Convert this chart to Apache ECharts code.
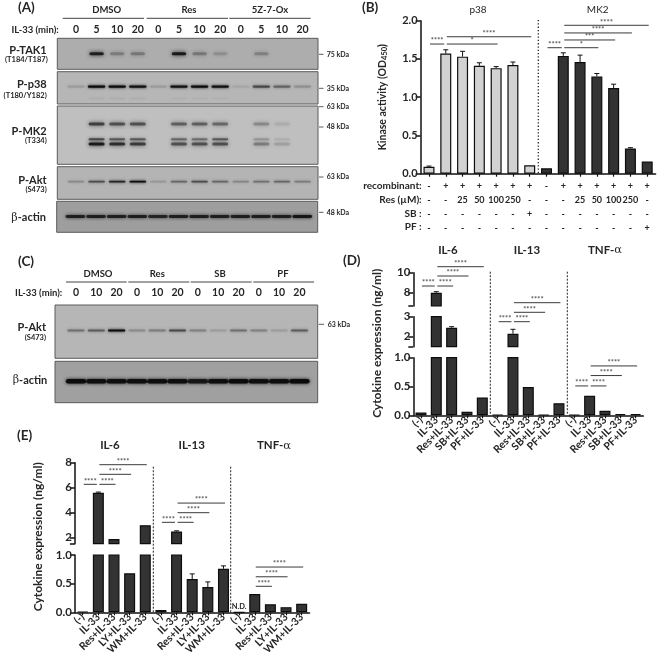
<!DOCTYPE html>
<html><head><meta charset="utf-8">
<style>html,body{margin:0;padding:0;background:#fff}#c{width:658px;height:658px}</style>
<script src="https://cdn.jsdelivr.net/npm/echarts@6/dist/echarts.min.js"></script>
</head><body><div id="c"></div>
<script>
// ---------- DATA ----------
const lanesA = ['0','5','10','20','0','5','10','20','0','5','10','20'];
const lanesC = ['0','10','20','0','10','20','0','10','20','0','10','20'];
const aTak1 = [0,.8,.22,.25,0,.85,.25,.13,0,.2,0,0];
const aP38 = [.1,.95,.95,.9,.1,.9,.95,.9,.06,.5,.35,.15];
const aP38Faint = [0,.03,.03,.03,0,.025,.02,.02,0,0,0,0];
const aMk2Top = [0,.6,.5,.5,0,.42,.42,.38,0,.22,.07,0];
const aMk2Mid = [0,.5,.42,.42,0,.35,.32,.42,0,.15,.06,0];
const aMk2Low = [0,.85,.7,.62,0,.5,.5,.5,0,.28,.12,0];
const aAkt = [.18,.5,.75,.95,.12,.35,.5,.35,.2,.3,.35,.25];
const aActin = [.75,.75,.75,.75,.7,.75,.75,.75,.75,.75,.75,.85];
const cAkt = [.3,.4,.95,.18,.25,.5,.22,.1,.3,.22,.1,.4];
const cActin = [.95,.9,.9,.9,.9,.9,.8,.9,.95,.9,.9,.95];

const bRecombinant = ['-','+','+','+','+','+','+','-','+','+','+','+','+','+'];
const bRes = ['-','-','25','50','100','250','-','-','-','25','50','100','250','-'];
const bSB = ['-','-','-','-','-','-','+','-','-','-','-','-','-','-'];
const bPF = ['-','-','-','-','-','-','-','-','-','-','-','-','-','+'];
const bP38 = [.09,1.57,1.53,1.41,1.38,1.42,.11];
const bP38Err = [.01,.05,.07,.04,.02,.04,0];
const bMk2 = [.07,1.54,1.46,1.27,1.12,.33,.16];
const bMk2Err = [0,.04,.09,.04,.05,.01,0];
const bBrackets = [[0,1,1.695,'****'],[1,4,1.695,'*'],[1,6,1.79,'****'],[7,8,1.647,'****'],[8,10,1.647,'*'],[8,11,1.748,'***'],[8,12,1.84,'****'],[8,13,1.94,'****']];

const dCats = ['(-)','IL-33','Res+IL-33','SB+IL-33','PF+IL-33'];
const dIl6 = [.05,8,2.45,.06,.31];
const dIl13 = [.01,2.15,.49,.01,.21];
const dTnf = [.01,.34,.08,.02,.02];
const dIl6Err = [0,.1,.05,0,0];
const dIl13Err = [0,.22,0,0,0];
const dTnfErr = [0,0,0,0,0];
// [from, to, level on axis, stars, axis segment]
const dBrackets = [[0,1,8.67,'****',2],[1,2,8.67,'****',2],[1,3,9.67,'****',2],[1,4,10.6,'****',2],
  [5,6,2.75,'****',1],[6,7,2.75,'****',1],[6,8,3.22,'****',1],[6,9,3.7,'****',1],
  [10,11,.51,'****',0],[11,12,.51,'****',0],[11,13,.69,'****',0],[11,14,.857,'****',0]];

const eCats = ['(-)','IL-33','Res+IL-33','LY+IL-33','WM+IL-33'];
const eIl6 = [.01,5.6,1.9,.68,3.0];
const eIl13 = [.04,2.5,.58,.44,.76];
const eTnf = [0,.32,.14,.09,.15];
const eIl6Err = [0,.05,0,0,0];
const eIl13Err = [0,.05,.09,.09,.05];
const eTnfErr = [0,0,0,0,0];
const eBrackets = [[0,1,6.27,'****',1],[1,2,6.27,'****',1],[1,3,7.07,'****',1],[1,4,7.84,'****',1],
  [5,6,3.23,'****',1],[6,7,3.23,'****',1],[6,8,4,'****',1],[6,9,4.77,'****',1],
  [11,12,.454,'****',0],[11,13,.62,'****',0],[11,14,.79,'****',0]];

// ---------- HELPERS ----------
const FONT = 'Lato, "Noto Sans", sans-serif';
const INK = '#262626';
const grids=[], xAxes=[], yAxes=[], series=[], gfx=[];
function addCoord(g,x,y){const i=grids.length;grids.push(g);xAxes.push(Object.assign({gridIndex:i},x));yAxes.push(Object.assign({gridIndex:i},y));return i;}
function text(t,x,y,size,opt){opt=opt||{};
  gfx.push({type:'text',x,y,rotation:opt.rot||0,silent:true,style:{text:t,fill:opt.fill||INK,fontFamily:FONT,fontSize:size,fontWeight:opt.w||'normal',align:opt.a||'center',verticalAlign:'middle',rich:opt.rich}});}
function line(x1,y1,x2,y2,stroke,w,dash){gfx.push({type:'line',silent:true,shape:{x1,y1,x2,y2},style:{stroke:stroke||'#555',lineWidth:w||1,lineDash:dash||null}});}

function blot(l,t,r,b,xMin,xMax,bg,labels,margin){
  const x={type:'value',min:xMin,max:xMax,show:!!labels,position:'top',splitLine:{show:false},axisLine:{show:false},axisTick:{show:false}};
  if(labels){x.axisLabel={customValues:labels.map((_,i)=>i),formatter:v=>labels[v],fontFamily:FONT,fontSize:10.5,fontWeight:'bold',color:INK,margin:margin,showMinLabel:true,showMaxLabel:true};}
  return addCoord({left:l,top:t,width:r-l,height:b-t,show:true,backgroundColor:bg,borderColor:'#5a5a5a',borderWidth:1},x,
    {type:'value',inverse:true,min:0,max:100,show:false,splitLine:{show:false}});
}
function band(i,pos,vals,wLanes,h,blur){
  series.push({type:'custom',xAxisIndex:i,yAxisIndex:i,clip:true,silent:true,
    data:vals.map((v,k)=>[k,pos,v]),encode:{x:0,y:1},
    renderItem(p,api){const v=api.value(2);if(v<=0)return null;
      const c=api.coord([api.value(0),api.value(1)]);const w=api.size([wLanes,0])[0];
      return {type:'rect',shape:{x:c[0]-w/2,y:c[1]-h/2,width:w,height:h,r:h/2},
        style:{fill:'#0a0a0a',opacity:Math.min(1,v),shadowBlur:blur,shadowColor:'#0a0a0a'}};}});
}
function barPanel(cfg){
  const segIdx=cfg.segs.map((s,si)=>{
    const x={type:'category',data:cfg.cats,show:si===0,
      axisLine:{show:true,onZero:false,lineStyle:{color:'#111',width:1.5}},
      axisTick:{show:true,alignWithLabel:true,length:3,lineStyle:{color:'#111',width:1.2}},
      axisLabel:Object.assign({interval:0,color:INK,fontFamily:FONT,fontWeight:'bold'},cfg.xLabel)};
    const y={type:'value',min:s.min,max:s.max,splitLine:{show:false},
      axisLine:{show:true,lineStyle:{color:'#111',width:1.5}},
      axisTick:{show:true,length:5,customValues:s.ticks,lineStyle:{color:'#111',width:1.5}},
      axisLabel:{customValues:s.labels,formatter:v=>s.dec?v.toFixed(s.dec):String(v),color:INK,fontFamily:FONT,fontWeight:'bold',fontSize:cfg.ySize||11.5,margin:3}};
    if(cfg.yName&&si===0)Object.assign(y,cfg.yName);
    const i=addCoord({left:cfg.left,width:cfg.width,top:s.top,height:s.h},x,y);
    series.push({type:'bar',xAxisIndex:i,yAxisIndex:i,barWidth:cfg.barW||11,silent:true,
      data:cfg.vals.map((v,k)=>{
        const item={value:v>=s.min?v:null,itemStyle:{color:cfg.colors[k],borderColor:'#0d0d0d',borderWidth:1.2}};
        if(si===0&&cfg.notes&&cfg.notes[k]!=null)item.label={show:true,formatter:cfg.notes[k],position:'top',distance:1,fontSize:7.5,fontWeight:'bold',color:INK,fontFamily:FONT};
        return item;})});
    series.push({type:'custom',xAxisIndex:i,yAxisIndex:i,silent:true,z:3,
      data:cfg.vals.map((v,k)=>[k,v,v+cfg.errs[k]]).filter(d=>d[2]>d[1]&&d[1]>=s.min&&d[1]<=s.max),encode:{x:0,y:1},
      renderItem(p,api){const a=api.coord([api.value(0),api.value(1)]),b=api.coord([api.value(0),api.value(2)]);
        const st={stroke:'#111',lineWidth:1};
        return {type:'group',children:[
          {type:'line',shape:{x1:a[0],y1:a[1],x2:b[0],y2:b[1]},style:st},
          {type:'line',shape:{x1:a[0]-2.5,y1:b[1],x2:a[0]+2.5,y2:b[1]},style:st}]};}});
    return i;
  });
  cfg.segs.forEach((s,si)=>{
    const br=cfg.brackets.filter(b=>(b[4]||0)===si);
    if(!br.length)return;
    const i=segIdx[si];
    series.push({type:'custom',xAxisIndex:i,yAxisIndex:i,silent:true,z:4,clip:false,
      data:br.map((b,k)=>[b[0],b[2],k]),encode:{x:0,y:1},
      renderItem(p,api){const b=br[p.dataIndex];
        const a=api.coord([b[0],b[2]]),c=api.coord([b[1],b[2]]);
        const isGroupStart=b[0]%cfg.groupSize===0;
        const x1=a[0]+1,x2=c[0]+(isGroupStart?-1.5:1.5);
        return {type:'group',children:[
          {type:'line',shape:{x1,y1:a[1],x2,y2:a[1]},style:{stroke:'#3a3a3a',lineWidth:1}},
          {type:'text',x:(x1+x2)/2,y:a[1]-3,style:{text:b[3],fill:'#555',fontSize:7.5,fontWeight:'bold',fontFamily:FONT,align:'center',verticalAlign:'middle'}}]};}});
  });
}
const rep=(a,n)=>[].concat(...Array(n).fill(a));

// ---------- PANEL A ----------
const axMin=-0.908, axMax=11.75;
const a1=blot(57.3,38.3,318,69.3,axMin,axMax,'#adadad',lanesA,3);
const a2=blot(57.3,71.7,318,104,axMin,axMax,'#b6b6b6');
const a3=blot(57.3,106,318,164.3,axMin,axMax,'#bfbfbf');
const a4=blot(57.3,166.7,318,199.3,axMin,axMax,'#b4b4b4');
const a5=blot(56.7,201.3,317.7,232.3,axMin,axMax,'#9e9e9e');
band(a1,50,aTak1,.7,3,4);
band(a2,46,aP38,.85,2.2,3);
band(a2,83,aP38Faint,.8,1.5,3);
band(a3,31,aMk2Top,.78,3,4);
band(a3,57,aMk2Mid,.78,2.2,3);
band(a3,65,aMk2Low,.78,3,4);
band(a4,46,aAkt,.8,1.8,3);
band(a5,49,aActin,.95,2.8,3.5);
text('(A)',18,8,13.5,{w:'bold',a:'left'});
[['DMSO',106.7,62.7,144],['Res',189,146.7,228],['5Z-7-Ox',270,229.3,310.7]].forEach(g=>{text(g[0],g[1],10.3,9.5,{w:'bold'});line(g[2],18.3,g[3],18.3,'#444',1);});
text('IL-33 (min):',58.7,30,9.5,{a:'right',w:'bold'});
[['P-TAK1',46.7,50],['P-p38',46.7,84.3],['P-MK2',46.7,131],['P-Akt',46.7,180.3]].forEach(g=>text(g[0],g[1],g[2],11,{a:'right',w:'bold'}));
[['(T184/T187)',47.7,60],['(T180/Y182)',46.7,95.7],['(T334)',46.7,141],['(S473)',46.7,190]].forEach(g=>text(g[0],g[1],g[2],7.5,{a:'right',w:'bold'}));
const betaRich={g:{fontFamily:'"DejaVu Serif",serif',fontSize:11,fontWeight:'normal',fill:INK},t:{fontFamily:FONT,fontSize:11,fontWeight:'bold',fill:INK}};
text('{g|β}{t|-actin}',46,217.7,11,{a:'right',rich:betaRich});
[['75 kDa',54.3],['35 kDa',88.3],['63 kDa',106.7],['48 kDa',127],['63 kDa',177],['48 kDa',212.3]].forEach(g=>{text(g[0],326.7,g[1],7,{a:'left',w:'bold'});line(319,g[1],323.5,g[1],'#333',.8);});

// ---------- PANEL B ----------
barPanel({left:420.6,width:235,cats:bRecombinant.map((r,i)=>[r,bRes[i],bSB[i],bPF[i]].join('\n')),
  vals:bP38.concat(bMk2),errs:bP38Err.concat(bMk2Err),
  colors:rep(['#d2d2d2'],7).concat(rep(['#333333'],7)),
  xLabel:{fontSize:9,lineHeight:13.7,margin:6},groupSize:7,brackets:bBrackets,ySize:11,
  yName:{name:'{t|Kinase activity (OD}{s|450}{t|)}',nameLocation:'middle',nameGap:32,
    nameTextStyle:{rich:{t:{fontFamily:FONT,fontSize:10.5,fontWeight:'bold',color:INK},s:{fontFamily:FONT,fontSize:7.5,fontWeight:'bold',color:INK,verticalAlign:'bottom'}}}},
  segs:[{top:20.7,h:153,min:0,max:2,ticks:[0,.5,1,1.5,2],labels:[0,.5,1,1.5,2],dec:1}]});
text('(B)',362,8,13.5,{w:'bold',a:'left'});
text('p38',478,10,10);text('MK2',597.7,10,10);
line(538.3,20,538.3,173,'#222',1.3,[1.3,2]);
[['recombinant:',186],['Res (µM):',199.7],['SB :',213.4],['PF :',227]].forEach(g=>text(g[0],421.7,g[1],10,{a:'right',w:'bold'}));

// ---------- PANEL C ----------
const c1=blot(55,305,317.7,358.3,-1.034,11.9,'#b6b6b6',lanesC,7);
const c2=blot(55,361.3,317.7,402.7,-1.034,11.9,'#a0a0a0');
band(c1,48,cAkt,.85,2,3);
band(c2,48,cActin,1,4.5,3.5);
text('(C)',18,261.7,13.5,{w:'bold',a:'left'});
[['DMSO',98,66,126.7],['Res',157.3,128.3,189.3],['SB',220,190.7,251.7],['PF',283,253.3,314]].forEach(g=>{text(g[0],g[1],274.3,9.5,{w:'bold'});line(g[2],282,g[3],282,'#444',1);});
text('IL-33 (min):',62.3,292.7,9.5,{a:'right',w:'bold'});
text('P-Akt',46,327.3,11,{a:'right',w:'bold'});
text('(S473)',46,337.7,7.5,{a:'right',w:'bold'});
text('{g|β}{t|-actin}',47.3,380.3,11,{a:'right',rich:betaRich});
text('63 kDa',327.7,324.3,7,{a:'left',w:'bold'});line(318.7,324.3,324,324.3,'#333',.8);

// ---------- PANEL D ----------
const xl45={rotate:45,fontSize:10.5,margin:3};
barPanel({left:413.3,width:230,cats:rep(dCats,3),vals:dIl6.concat(dIl13,dTnf),errs:dIl6Err.concat(dIl13Err,dTnfErr),
  colors:rep(['#333333'],15),xLabel:xl45,groupSize:5,brackets:dBrackets,
  segs:[{top:357.7,h:57.6,min:0,max:1,ticks:[0,.5,1],labels:[0,.5,1],dec:1},
        {top:316.7,h:30,min:1.5,max:3,ticks:[1.5,2,3],labels:[2,3]},
        {top:272.7,h:33.3,min:6.67,max:10,ticks:[6.67,8,10],labels:[8,10]}]});
text('(D)',343,261,13.5,{w:'bold',a:'left'});
const alphaRich={t:{fontFamily:FONT,fontSize:11.5,fontWeight:'bold',fill:INK},g:{fontFamily:'"DejaVu Serif",serif',fontSize:11.5,fontWeight:'normal',fill:INK}};
text('IL-6',448,250,11.5,{w:'bold'});text('IL-13',527,250,11.5,{w:'bold'});
text('{t|TNF-}{g|α}',605,250,11.5,{rich:alphaRich});
line(490.3,271.7,490.3,415,'#222',1,[2,1.5]);line(567.3,271.7,567.3,415,'#222',1,[2,1.5]);
text('Cytokine expression (ng/ml)',376.7,343.3,12,{rot:Math.PI/2,w:'bold'});

// ---------- PANEL E ----------
const eNotes=Array(15).fill(null);eNotes[10]='N.D.';
barPanel({left:74.9,width:234.6,cats:rep(eCats,3),vals:eIl6.concat(eIl13,eTnf),errs:eIl6Err.concat(eIl13Err,eTnfErr),
  colors:rep(['#333333'],15),xLabel:xl45,groupSize:5,brackets:eBrackets,notes:eNotes,
  segs:[{top:555,h:57.3,min:0,max:1,ticks:[0,.5,1],labels:[0,.5,1],dec:1},
        {top:462.7,h:81,min:1.52,max:8,ticks:[1.52,2,4,6,8],labels:[2,4,6,8]}]});
text('(E)',17,436,13.5,{w:'bold',a:'left'});
text('IL-6',110,445.7,11.5,{w:'bold'});text('IL-13',191.7,445.7,11.5,{w:'bold'});
text('{t|TNF-}{g|α}',274,445.7,11.5,{rich:alphaRich});
line(153.3,466.7,153.3,612,'#222',1,[2,1.5]);line(230.7,466.7,230.7,612,'#222',1,[2,1.5]);
text('Cytokine expression (ng/ml)',38.3,536.7,12,{rot:Math.PI/2,w:'bold'});

const chart=echarts.init(document.getElementById('c'),null,{renderer:'canvas'});
chart.setOption({animation:false,backgroundColor:'#fff',textStyle:{fontFamily:FONT},
  grid:grids,xAxis:xAxes,yAxis:yAxes,series,graphic:{elements:gfx}});
</script></body></html>
